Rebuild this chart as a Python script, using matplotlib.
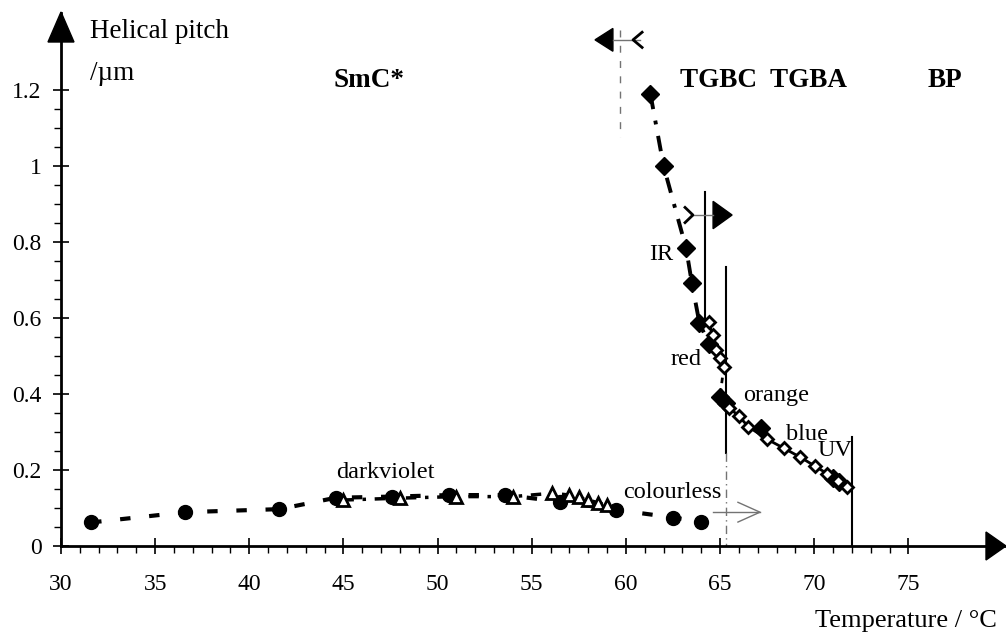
import matplotlib.pyplot as plt
from matplotlib.patches import Polygon
from matplotlib.ticker import MultipleLocator, FuncFormatter

plt.rcParams['font.family'] = ['Liberation Serif', 'DejaVu Serif']

# SmC* phase, filled circles and open triangles
smc_T = [31.6, 36.6, 41.6, 44.6, 47.6, 50.6, 53.6, 56.5, 59.5, 62.5, 64.0]
smc_P = [0.062, 0.089, 0.097, 0.127, 0.130, 0.134, 0.134, 0.117, 0.095, 0.075, 0.064]
tri_T = [45.0, 48.0, 51.0, 54.0, 56.1, 57.0, 57.5, 58.0, 58.5, 59.0]
tri_P = [0.121, 0.126, 0.130, 0.130, 0.139, 0.134, 0.128, 0.121, 0.114, 0.108]

# TGB / BP region, filled and open diamonds
tgb_T = [61.3, 62.0, 63.2, 63.5, 63.9, 64.4, 65.0, 65.3, 67.2, 71.0, 71.3]
tgb_P = [1.19, 1.0, 0.783, 0.693, 0.588, 0.532, 0.393, 0.376, 0.31, 0.178, 0.168]
open_T = [64.4, 64.6, 64.8, 65.0, 65.2, 65.5, 66.0, 66.5, 67.5, 68.4, 69.25, 70.05, 70.7, 71.25, 71.75]
open_P = [0.590, 0.555, 0.516, 0.494, 0.472, 0.363, 0.342, 0.314, 0.281, 0.257, 0.234, 0.210, 0.190, 0.172, 0.155]

# phase boundaries (dashed, solid, solid, solid)
bound_T = [59.7, 64.2, 65.3, 72.0]

colour_labels = [('IR', 62.5, 0.753, 'right'), ('red', 64.0, 0.476, 'right'),
                 ('orange', 66.2, 0.382, 'left'), ('blue', 68.5, 0.280, 'left'),
                 ('UV', 70.2, 0.238, 'left'), ('darkviolet', 44.6, 0.179, 'left'),
                 ('colourless', 59.85, 0.126, 'left')]
phase_labels = [('SmC*', 44.45), ('TGBC  TGBA', 62.87), ('BP', 76.04)]

W, H = 1006, 637
fig = plt.figure(figsize=(W / 100, H / 100), dpi=100)
x0, y0, x1, y1 = 61, 546, 1006, 13
ax = fig.add_axes([x0 / W, 1 - y0 / H, (x1 - x0) / W, (y0 - y1) / H])
ax.set_xlim(30, 30 + (x1 - x0) / 18.83)
ax.set_ylim(0, (y0 - y1) / 380)

for s in ['top', 'right']:
    ax.spines[s].set_visible(False)
for s in ['left', 'bottom']:
    ax.spines[s].set_linewidth(2)

# arrow heads of the axes
def fig_poly(pts):
    return Polygon([(px / W, 1 - py / H) for px, py in pts], closed=True,
                   transform=fig.transFigure, color='black', clip_on=False)
fig.patches.append(fig_poly([(61, 12), (48, 42), (74, 42)]))
fig.patches.append(fig_poly([(1006, 546), (986, 532), (986, 560)]))

ax.set_xticks([t for t in range(30, 76, 5)])
ax.set_xticks([t for t in range(30, 76)], minor=True)
ax.set_yticks([0, 0.2, 0.4, 0.6, 0.8, 1.0, 1.2])
ax.set_yticks([i * 0.05 for i in range(25)], minor=True)
ax.yaxis.set_major_formatter(FuncFormatter(lambda v, p: f'{v:g}'))
ax.tick_params(which='major', direction='inout', length=12, width=1.2, labelsize=17)
ax.tick_params(which='minor', direction='out', length=5, width=1.0)
ax.tick_params(axis='y', which='major', pad=8)
ax.tick_params(axis='x', which='major', pad=14)

# SmC* series
ax.plot(smc_T, smc_P, color='black', lw=3, dashes=(2.5, 4.5), marker='o', ms=10, zorder=3)
ax.plot(tri_T, tri_P, color='black', lw=2.5, dashes=(3, 2.5, 1, 2.5), marker='^', ms=9,
        mfc='white', mec='black', mew=2, zorder=4)

# TGB series
ax.plot(tgb_T[:6], tgb_P[:6], color='black', lw=2.8, dashes=(4, 3, 1, 3), zorder=3)
ax.plot(open_T[:5], open_P[:5], color='black', lw=2, zorder=3)
ax.plot([open_T[4], tgb_T[6]], [open_P[4], tgb_P[6]], color='black', lw=2, dashes=(2, 2), zorder=3)
ax.plot([tgb_T[6]] + open_T[5:], [tgb_P[6]] + open_P[5:], color='black', lw=2, zorder=3)
ax.plot(tgb_T, tgb_P, ls='none', marker='D', ms=9, color='black', zorder=5)
ax.plot(open_T, open_P, ls='none', marker='D', ms=6.5, mfc='white', mec='black', mew=2, zorder=6)

# phase boundaries
ax.plot([bound_T[0]] * 2, [1.358, 1.076], color='0.45', lw=1, dashes=(5, 6))
ax.plot([bound_T[1]] * 2, [0.932, 0.59], color='black', lw=1.5)
ax.plot([bound_T[2]] * 2, [0.734, 0.245], color='black', lw=1.5)
ax.plot([bound_T[2]] * 2, [0.245, 0.0], color='0.45', lw=1, dashes=(6, 3, 1, 3))
ax.plot([bound_T[3]] * 2, [0.287, 0.0], color='black', lw=1.5)

# arrows at the boundaries
ay = 1.332
ax.plot([59.31, 60.75], [ay, ay], color='0.45', lw=1)
ax.add_patch(Polygon([(58.36, ay), (59.31, ay + 0.03), (59.31, ay - 0.03)], color='black'))
ax.plot([60.86, 60.38, 60.86], [ay + 0.02, ay, ay - 0.02], color='black', lw=2)

my = 0.871
ax.plot([63.56, 64.63], [my, my], color='0.45', lw=1)
ax.add_patch(Polygon([(65.64, my), (64.63, my + 0.036), (64.63, my - 0.036)], color='black'))
ax.plot([63.14, 63.56, 63.14], [my + 0.02, my, my - 0.02], color='black', lw=2)

cy = 0.089
ax.plot([64.63, 67.12], [cy, cy], color='0.45', lw=1)
ax.plot([65.95, 67.12, 65.95], [cy + 0.026, cy, cy - 0.026], color='0.45', lw=1)

for txt, t, p, ha in colour_labels:
    ax.text(t, p, txt, ha=ha, va='baseline', fontsize=17.5, zorder=7)
for txt, t in phase_labels:
    ax.text(t, 1.207, txt, ha='left', va='baseline', fontsize=19.5, fontweight='bold')

ax.text(31.54, 1.337, 'Helical pitch', ha='left', va='baseline', fontsize=19.5)
ax.text(31.54, 1.226, '/µm', ha='left', va='baseline', fontsize=19.5)
fig.text(997 / W, 1 - 627 / H, 'Temperature / °C', ha='right', va='baseline', fontsize=19)

fig.savefig('out.png', dpi=100)
